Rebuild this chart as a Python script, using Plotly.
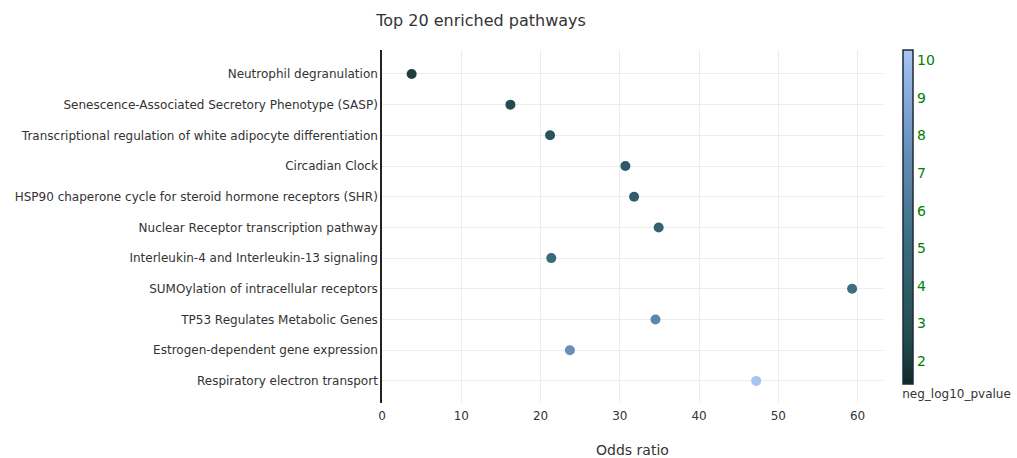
import plotly.graph_objects as go

pathways = [
    "Neutrophil degranulation",
    "Senescence-Associated Secretory Phenotype (SASP)",
    "Transcriptional regulation of white adipocyte differentiation",
    "Circadian Clock",
    "HSP90 chaperone cycle for steroid hormone receptors (SHR)",
    "Nuclear Receptor transcription pathway",
    "Interleukin-4 and Interleukin-13 signaling",
    "SUMOylation of intracellular receptors",
    "TP53 Regulates Metabolic Genes",
    "Estrogen-dependent gene expression",
    "Respiratory electron transport",
]
odds_ratio = [3.74, 16.2, 21.2, 30.7, 31.8, 34.9, 21.35, 59.3, 34.5, 23.7, 47.2]
neg_log10_pvalue = [2.1, 2.7, 3.3, 3.8, 4.0, 4.4, 5.0, 5.2, 7.0, 7.6, 10.27]
color_min = 1.39
color_max = 10.27

colorscale = [[0.0, "#0f2828"], [0.12, "#21494a"], [0.45, "#3e6f84"], [0.72, "#6a92bd"], [1.0, "#a8c4f2"]]

fig = go.Figure(go.Scatter(
    x=odds_ratio,
    y=pathways,
    mode="markers",
    marker=dict(
        size=10,
        color=neg_log10_pvalue,
        cmin=color_min,
        cmax=color_max,
        colorscale=colorscale,
        showscale=True,
        colorbar=dict(
            title=dict(text="neg_log10_pvalue", side="bottom", font=dict(size=12, color="#333")),
            thickness=10,
            len=1,
            ypad=0,
            outlinewidth=1.5,
            outlinecolor="#1c2a3a",
            tickfont=dict(color="green", size=14),
            tickvals=[2, 3, 4, 5, 6, 7, 8, 9, 10],
        ),
    ),
))

fig.update_layout(
    width=1017,
    height=458,
    font=dict(family="Verdana, DejaVu Sans, sans-serif", size=12, color="#333"),
    title=dict(text="Top 20 enriched pathways", x=0.473, xanchor="center", y=0.956, yanchor="middle",
               font=dict(size=16, color="#333")),
    paper_bgcolor="white",
    plot_bgcolor="white",
    margin=dict(l=382, r=134, t=50, b=55, autoexpand=False),
    showlegend=False,
)
fig.update_xaxes(
    title=dict(text="Odds ratio", standoff=25),
    range=[0, 63.2],
    tickvals=[0, 10, 20, 30, 40, 50, 60],
    ticklabelstandoff=4,
    showgrid=True,
    gridcolor="#ececec",
    zeroline=False,
    showline=False,
    automargin=False,
)
fig.update_yaxes(
    type="category",
    categoryorder="array",
    categoryarray=pathways,
    range=[10.72, -0.78],
    showgrid=True,
    gridcolor="#ececec",
    showline=True,
    linecolor="#222",
    linewidth=1.5,
    zeroline=False,
    ticks="",
    automargin=False,
)

fig.write_html("out.html", config={"displayModeBar": False},
               post_script="document.body.style.margin='0';document.body.style.padding='0';")
